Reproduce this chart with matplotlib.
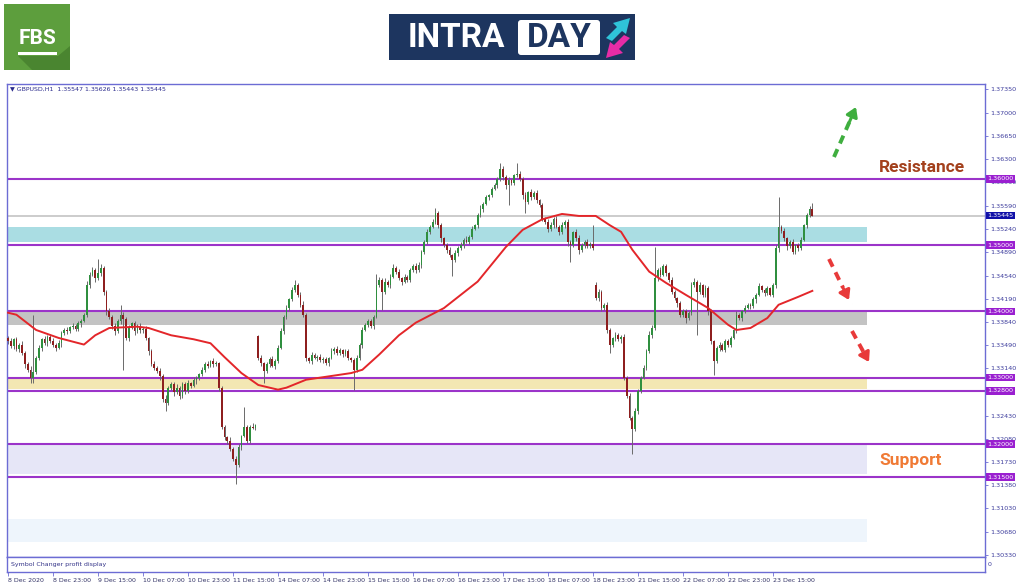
import numpy as np
import matplotlib
matplotlib.use('Agg')
import matplotlib.pyplot as plt
from matplotlib.patches import Rectangle, FancyBboxPatch, Polygon

# ---------------------------------------------------------------
# data (GBPUSD H1, 8 Dec 07:00 -> 24 Dec 05:00)
# ---------------------------------------------------------------
first_open = 1.3360

closes = [
    1.3355, 1.3348, 1.3358, 1.3343, 1.3350, 1.3338, 1.3320, 1.3312, 1.3300, 1.3308, 1.3330, 1.3345, 1.3358, 1.3352, 1.3362, 1.3356,
    1.3350, 1.3345, 1.3352, 1.3368, 1.3372, 1.3370, 1.3376, 1.3378, 1.3374, 1.3382, 1.3386, 1.3395, 1.3440, 1.3455, 1.3462, 1.3450,
    1.3458, 1.3465, 1.3430, 1.3400, 1.3392, 1.3378, 1.3370, 1.3385, 1.3395, 1.3388, 1.3360, 1.3375, 1.3382, 1.3370, 1.3378, 1.3372,
    1.3374, 1.3360, 1.3340, 1.3320, 1.3315, 1.3310, 1.3302, 1.3268, 1.3262, 1.3285, 1.3290, 1.3278, 1.3285, 1.3272, 1.3290, 1.3280,
    1.3292, 1.3288, 1.3296, 1.3300, 1.3305, 1.3312, 1.3320, 1.3318, 1.3325, 1.3320, 1.3322, 1.3285, 1.3225, 1.3210, 1.3205, 1.3192,
    1.3178, 1.3168, 1.3195, 1.3212, 1.3225, 1.3205, 1.3226, 1.3224, 1.3228, 1.3330, 1.3322, 1.3310, 1.3320, 1.3328, 1.3318, 1.3325,
    1.3345, 1.3370, 1.3392, 1.3405, 1.3418, 1.3432, 1.3440, 1.3425, 1.3410, 1.3395, 1.3330, 1.3325, 1.3335, 1.3330, 1.3332, 1.3326,
    1.3328, 1.3322, 1.3330, 1.3340, 1.3344, 1.3338, 1.3342, 1.3336, 1.3340, 1.3330, 1.3326, 1.3312, 1.3330, 1.3350, 1.3372, 1.3380,
    1.3385, 1.3378, 1.3392, 1.3440, 1.3448, 1.3430, 1.3445, 1.3440, 1.3452, 1.3465, 1.3460, 1.3450, 1.3445, 1.3452, 1.3448, 1.3462,
    1.3468, 1.3462, 1.3470, 1.3490, 1.3505, 1.3520, 1.3528, 1.3535, 1.3548, 1.3530, 1.3510, 1.3500, 1.3492, 1.3485, 1.3478, 1.3488,
    1.3495, 1.3500, 1.3508, 1.3505, 1.3512, 1.3525, 1.3530, 1.3545, 1.3555, 1.3562, 1.3572, 1.3575, 1.3585, 1.3590, 1.3600, 1.3615,
    1.3602, 1.3590, 1.3598, 1.3594, 1.3605, 1.3608, 1.3600, 1.3575, 1.3565, 1.3580, 1.3572, 1.3578, 1.3568, 1.3560, 1.3540, 1.3535,
    1.3525, 1.3530, 1.3540, 1.3528, 1.3520, 1.3530, 1.3535, 1.3505, 1.3500, 1.3520, 1.3510, 1.3492, 1.3500, 1.3505, 1.3498, 1.3502,
    1.3495, 1.3420, 1.3430, 1.3405, 1.3410, 1.3372, 1.3350, 1.3360, 1.3365, 1.3358, 1.3362, 1.3300, 1.3272, 1.3240, 1.3222, 1.3250,
    1.3280, 1.3300, 1.3315, 1.3340, 1.3365, 1.3375, 1.3450, 1.3462, 1.3455, 1.3468, 1.3458, 1.3448, 1.3430, 1.3420, 1.3412, 1.3395,
    1.3400, 1.3390, 1.3398, 1.3440, 1.3445, 1.3430, 1.3440, 1.3425, 1.3435, 1.3400, 1.3355, 1.3325, 1.3345, 1.3350, 1.3342, 1.3355,
    1.3350, 1.3360, 1.3372, 1.3395, 1.3390, 1.3400, 1.3405, 1.3410, 1.3408, 1.3418, 1.3425, 1.3438, 1.3432, 1.3428, 1.3435, 1.3425,
    1.3440, 1.3495, 1.3528, 1.3522, 1.3510, 1.3498, 1.3505, 1.3490, 1.3500, 1.3495, 1.3508, 1.3530, 1.3545, 1.3555, 1.35445,
]

# weekend gaps: Monday opens
gap_bars = [89, 209]
gap_opens = [1.3363, 1.3440]

# wicks in pips beyond the candle body
wick_up = [
    3, 5, 2, 4, 3, 6, 2, 4, 5, 87, 3, 4, 2, 5, 3, 4,
    4, 3, 5, 2, 3, 4, 2, 5, 3, 4, 2, 3, 6, 4, 5, 3,
    21, 6, 4, 3, 5, 2, 4, 3, 15, 4, 3, 5, 2, 4, 3, 5,
    3, 4, 2, 3, 5, 2, 4, 3, 6, 2, 4, 3, 5, 2, 4, 3,
    4, 2, 5, 3, 2, 4, 3, 5, 2, 4, 3, 2, 3, 4, 2, 5,
    3, 4, 5, 2, 31, 4, 3, 5, 2, 2, 4, 2, 3, 4, 5, 3,
    4, 5, 3, 4, 2, 5, 8, 3, 4, 5, 3, 2, 4, 3, 2, 4,
    3, 4, 2, 5, 3, 4, 3, 2, 4, 3, 2, 4, 5, 3, 4, 2,
    3, 4, 3, 17, 4, 3, 5, 2, 4, 6, 3, 4, 2, 5, 3, 4,
    3, 5, 4, 2, 3, 4, 3, 5, 8, 3, 4, 2, 3, 5, 2, 4,
    3, 4, 2, 5, 3, 4, 2, 3, 5, 3, 4, 2, 3, 4, 3, 9,
    5, 3, 4, 2, 3, 16, 4, 3, 5, 2, 4, 3, 5, 2, 4, 3,
    4, 5, 3, 4, 2, 5, 3, 4, 3, 2, 4, 5, 3, 2, 4, 3,
    28, 5, 4, 3, 2, 4, 3, 2, 4, 3, 2, 4, 3, 5, 2, 4,
    3, 2, 4, 3, 5, 4, 47, 3, 5, 4, 3, 2, 4, 3, 2, 4,
    3, 4, 2, 4, 5, 3, 4, 2, 5, 3, 4, 2, 3, 4, 2, 3,
    4, 3, 2, 5, 3, 2, 4, 3, 2, 4, 3, 5, 2, 3, 4, 2,
    3, 5, 45, 3, 4, 2, 3, 4, 2, 3, 4, 2, 3, 4, 8,
]
wick_dn = [
    4, 3, 5, 2, 4, 3, 5, 4, 8, 8, 3, 4, 5, 2, 4, 3,
    3, 4, 2, 5, 3, 4, 3, 2, 4, 3, 5, 2, 3, 4, 2, 5,
    3, 4, 5, 6, 3, 4, 5, 3, 4, 76, 3, 4, 2, 5, 3, 4,
    4, 3, 5, 2, 4, 3, 5, 4, 12, 3, 4, 5, 3, 4, 2, 5,
    3, 4, 2, 5, 3, 2, 4, 3, 2, 4, 3, 5, 3, 4, 5, 3,
    4, 29, 3, 4, 2, 3, 4, 2, 3, 3, 4, 18, 3, 4, 2, 5,
    3, 2, 4, 3, 5, 2, 3, 4, 3, 4, 5, 3, 4, 2, 5, 3,
    4, 3, 5, 2, 4, 3, 4, 5, 3, 4, 3, 30, 4, 3, 5, 2,
    4, 3, 5, 2, 3, 28, 4, 3, 5, 2, 4, 3, 5, 2, 4, 3,
    3, 4, 2, 5, 3, 4, 3, 2, 3, 4, 5, 3, 4, 3, 24, 4,
    4, 3, 5, 2, 4, 3, 2, 4, 3, 5, 2, 4, 3, 2, 4, 3,
    4, 5, 29, 3, 4, 2, 3, 5, 16, 3, 4, 2, 5, 3, 4, 3,
    5, 3, 4, 2, 5, 3, 4, 6, 25, 3, 4, 5, 3, 4, 2, 3,
    3, 3, 4, 5, 3, 4, 13, 3, 4, 3, 5, 4, 3, 4, 37, 3,
    4, 3, 2, 4, 3, 5, 3, 4, 3, 2, 5, 3, 4, 3, 5, 4,
    3, 7, 3, 4, 3, 66, 4, 3, 4, 5, 4, 21, 3, 4, 2, 3,
    4, 3, 2, 4, 3, 5, 3, 2, 4, 3, 5, 2, 3, 4, 3, 2,
    3, 4, 5, 3, 4, 5, 3, 4, 3, 4, 3, 2, 4, 3, 0,
]

# red moving average, read at these bars
ma_bar = [0, 3, 10, 18, 27, 31, 36, 46, 50, 58, 66, 72, 77, 83, 89, 96, 99, 106, 122, 126, 132, 139,
          145, 155, 167, 177, 183, 190, 197, 203, 209, 214, 218, 222, 228, 234, 241, 249, 256, 259,
          264, 270, 274, 281, 286]
ma_value = [1.3398, 1.3395, 1.3372, 1.3360, 1.3350, 1.3364, 1.3375, 1.3377, 1.3375, 1.3364, 1.3358,
            1.3352, 1.3331, 1.3307, 1.3289, 1.3282, 1.3285, 1.3297, 1.3307, 1.3312, 1.3335, 1.3364,
            1.3383, 1.3405, 1.3445, 1.3497, 1.3523, 1.3539, 1.3547, 1.3544, 1.3544, 1.3530, 1.3520,
            1.3493, 1.3460, 1.3443, 1.3425, 1.3405, 1.3380, 1.3372, 1.3375, 1.3390, 1.3410, 1.3422,
            1.3431]

# horizontal levels and shaded zones
levels = [1.3600, 1.3500, 1.3400, 1.3300, 1.3280, 1.3200, 1.3150]
level_labels = ['1.36000', '1.35000', '1.34000', '1.33000', '1.32800', '1.32000', '1.31500']
last_price = 1.35445
zones = [(1.3505, 1.3527), (1.3380, 1.3400), (1.3283, 1.3300), (1.3155, 1.3200), (1.3052, 1.3087)]
zone_colors = ['#aadde3', '#c3c3c3', '#f3e7b3', '#e6e6f7', '#eef5fc']
zone_end_bar = 305.5

# price scale (1.32790 sits under the 1.32800 level box, so its label is not shown)
price_ticks = [1.37350, 1.37000, 1.36650, 1.36300, 1.35950, 1.35590, 1.35240, 1.34890, 1.34540,
               1.34190, 1.33840, 1.33490, 1.33140, 1.32790, 1.32430, 1.32080, 1.31730, 1.31380,
               1.31030, 1.30680, 1.30330]
price_tick_labels = ['1.37350', '1.37000', '1.36650', '1.36300', '1.35950', '1.35590', '1.35240',
                     '1.34890', '1.34540', '1.34190', '1.33840', '1.33490', '1.33140', '',
                     '1.32430', '1.32080', '1.31730', '1.31380', '1.31030', '1.30680', '1.30330']

time_ticks = [0, 16, 32, 48, 64, 80, 96, 112, 128, 144, 160, 176, 192, 208, 224, 240, 256, 272]
time_labels = ['8 Dec 2020', '8 Dec 23:00', '9 Dec 15:00', '10 Dec 07:00', '10 Dec 23:00',
               '11 Dec 15:00', '14 Dec 07:00', '14 Dec 23:00', '15 Dec 15:00', '16 Dec 07:00',
               '16 Dec 23:00', '17 Dec 15:00', '18 Dec 07:00', '18 Dec 23:00', '21 Dec 15:00',
               '22 Dec 07:00', '22 Dec 23:00', '23 Dec 15:00']

# ---------------------------------------------------------------
# candles
# ---------------------------------------------------------------
closes = np.array(closes)
n = len(closes)
bars = np.arange(n)
opens = np.r_[first_open, closes[:-1]]
opens[gap_bars] = gap_opens
body_top = np.maximum(opens, closes)
body_bot = np.minimum(opens, closes)
highs = body_top + np.array(wick_up) * 1e-4
lows = body_bot - np.array(wick_dn) * 1e-4
bull = closes >= opens

W, H = 1024, 587
fig = plt.figure(figsize=(W / 100, H / 100), dpi=100)
frame_col = '#6c6cd4'
axis_txt = '#3b3b9c'

def px_rect(x0, y0, x1, y1):
    return [x0 / W, 1 - y1 / H, (x1 - x0) / W, (y1 - y0) / H]

ax = fig.add_axes(px_rect(7, 84, 985, 557))
ax.set_xlim(-0.36, 347.4)
ax.set_ylim(1.30296, 1.37430)

for (lo, hi), col in zip(zones, zone_colors):
    ax.fill_between([-0.36, zone_end_bar], lo, hi, color=col, lw=0, zorder=0)

ax.axhline(last_price, color='#c4c4c4', lw=1.2, zorder=1)
for lv in levels:
    ax.axhline(lv, color='#9b34c9', lw=1.5, zorder=1)

ax.vlines(bars, lows, highs, color='#6a6a6a', lw=0.7, zorder=2)
body_h = np.maximum(body_top - body_bot, 0.00006)
ax.bar(bars[bull], body_h[bull], bottom=body_bot[bull], width=0.62, color='#2f8f3f', lw=0, zorder=3)
ax.bar(bars[~bull], body_h[~bull], bottom=body_bot[~bull], width=0.62, color='#8e1f1f', lw=0, zorder=3)

ax.plot(ma_bar, ma_value, color='#e3262a', lw=1.4, zorder=4)

for s in ax.spines.values():
    s.set_color(frame_col)
    s.set_linewidth(1.0)
ax.set_xticks([])
ax.yaxis.tick_right()
ax.set_yticks(price_ticks)
ax.set_yticklabels(price_tick_labels)
ax.tick_params(axis='y', length=2.5, width=0.6, color=frame_col, labelsize=4.6,
               labelcolor=axis_txt, pad=1.5)

ytr = ax.get_yaxis_transform()
for lv, lab in zip(levels, level_labels):
    ax.text(1.0025, lv, lab, transform=ytr, fontsize=4.6, color='white', va='center', ha='left',
            bbox=dict(boxstyle='square,pad=0.2', fc='#9a1fd0', ec='none'), zorder=10, clip_on=False)
ax.text(1.0025, last_price, '%.5f' % last_price, transform=ytr, fontsize=4.6, color='white',
        va='center', ha='left', bbox=dict(boxstyle='square,pad=0.2', fc='#1010a8', ec='none'),
        zorder=10, clip_on=False)

# indicator sub-window and time axis
ax2 = fig.add_axes(px_rect(7, 557, 985, 572))
ax2.set_xlim(ax.get_xlim())
ax2.set_yticks([])
for s in ax2.spines.values():
    s.set_color(frame_col)
    s.set_linewidth(1.0)
ax2.set_xticks(time_ticks)
ax2.set_xticklabels(time_labels)
ax2.tick_params(axis='x', length=3, width=0.6, color=frame_col, labelsize=4.5,
                labelcolor='#333366', pad=1)
for lab in ax2.get_xticklabels():
    lab.set_ha('left')
ax2.text(0.004, 0.5, 'Symbol Changer profit display', transform=ax2.transAxes, fontsize=4.5,
         color='#333388', va='center')
ax2.text(1.003, 0.5, '0', transform=ax2.transAxes, fontsize=4.5, color=axis_txt, va='center')

# ---------------------------------------------------------------
# overlay in pixel coordinates: header, annotations, logos
# ---------------------------------------------------------------
ov = fig.add_axes([0, 0, 1, 1], zorder=20)
ov.set_xlim(0, W)
ov.set_ylim(H, 0)
ov.axis('off')
ov.patch.set_alpha(0)

ov.text(10, 89, '\u25bc GBPUSD,H1  1.35547 1.35626 1.35443 1.35445', fontsize=4.5,
        color='#2b2b8c', va='center')

ov.text(879, 168, 'Resistance', fontsize=12.5, fontweight='bold', color='#a3401c',
        va='center', ha='left', family='Roboto')
ov.text(879, 461, 'Support', fontsize=12.5, fontweight='bold', color='#f07a35',
        va='center', ha='left', family='Roboto')

def dashed_arrow(p0, p1, col):
    p0 = np.array(p0, float)
    p1 = np.array(p1, float)
    mid = p0 + (p1 - p0) * 0.7
    ov.plot([p0[0], mid[0]], [p0[1], mid[1]], color=col, lw=2.8, ls=(0, (2.2, 1.6)),
            solid_capstyle='butt')
    ov.annotate('', xy=p1, xytext=mid,
                arrowprops=dict(arrowstyle='-|>,head_length=0.55,head_width=0.35', color=col,
                                lw=2.2, shrinkA=0, shrinkB=0))

dashed_arrow((834, 157), (856, 107), '#3fae3f')
dashed_arrow((829, 259), (849, 300), '#e83a3a')
dashed_arrow((852, 331), (869, 362), '#e83a3a')

# FBS logo
ov.add_patch(Rectangle((4, 4), 66, 66, fc='#5d9e3d', ec='none'))
ov.add_patch(Polygon([[18, 56], [58, 56], [70, 46], [70, 70], [32, 70]], closed=True,
                     fc='#4a8530', ec='none'))
ov.text(37, 38, 'FBS', fontsize=15, fontweight='bold', color='white', ha='center', va='center',
        family='Roboto')
ov.add_patch(Rectangle((18, 52), 39, 3, fc='white', ec='none'))

# INTRADAY logo
ov.add_patch(Rectangle((389, 14), 246, 46, fc='#1d355f', ec='none'))
ov.text(456, 38, 'INTRA', fontsize=24, fontweight='bold', color='white', ha='center', va='center',
        family='Roboto')
ov.add_patch(FancyBboxPatch((518, 20), 82, 35, boxstyle='round,pad=0,rounding_size=3',
                            fc='white', ec='none'))
ov.text(559, 38, 'DAY', fontsize=24, fontweight='bold', color='#1d355f', ha='center', va='center',
        family='Roboto')
ov.add_patch(Polygon([[606, 38], [617, 27], [613, 23], [630, 18], [626, 34], [622, 31], [612, 41]],
                     closed=True, fc='#2fc3d8', ec='none'))
ov.add_patch(Polygon([[630, 38], [619, 49], [623, 53], [606, 58], [610, 42], [614, 45], [624, 35]],
                     closed=True, fc='#e72ca6', ec='none'))

fig.savefig('out.png', dpi=100)
